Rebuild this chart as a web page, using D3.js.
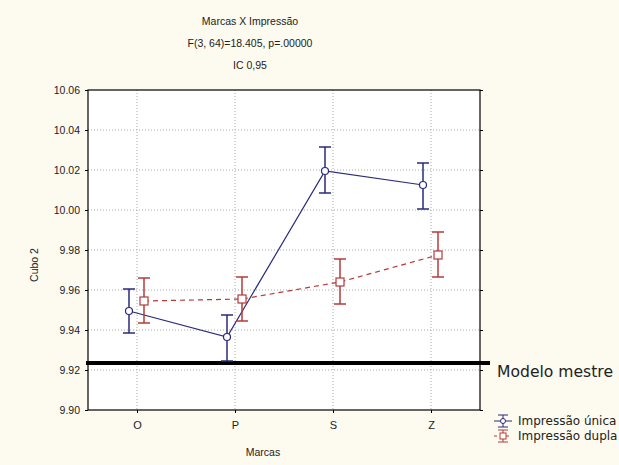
<!DOCTYPE html>
<html><head><meta charset="utf-8">
<script src="https://cdn.jsdelivr.net/npm/d3@7"></script>
<style>body{margin:0;background:#fdfaef;}svg{display:block;}</style>
</head><body>
<script>
const categories = ["O","P","S","Z"];
const seriesNames = ["Impressão única","Impressão dupla"];
const unicaMean = [9.9495, 9.9365, 10.0195, 10.0125];
const unicaLow  = [9.9385, 9.9245, 10.0085, 10.0005];
const unicaHigh = [9.9605, 9.9475, 10.0315, 10.0235];
const duplaMean = [9.9545, 9.9555, 9.9640, 9.9775];
const duplaLow  = [9.9435, 9.9445, 9.9530, 9.9665];
const duplaHigh = [9.9660, 9.9665, 9.9755, 9.9890];
const yTicks = [9.90,9.92,9.94,9.96,9.98,10.00,10.02,10.04,10.06];
const referenceValue = 9.9235;
const referenceLabel = "Modelo mestre";
const titleLines = ["Marcas X Impressão","F(3, 64)=18.405, p=.00000","IC 0,95"];

const W=619,H=465;
const m={l:88,r:480,t:90,b:410};
const svg=d3.select("body").append("svg").attr("width",W).attr("height",H)
  .style("font-family","'Liberation Sans',Arial,sans-serif");
svg.append("rect").attr("width",W).attr("height",H).attr("fill","#fdfaef");

const x=d3.scalePoint().domain(categories).range([m.l,m.r]).padding(0.5);
const y=d3.scaleLinear().domain([9.90,10.06]).range([m.b,m.t]);

svg.append("rect").attr("x",m.l).attr("y",m.t).attr("width",m.r-m.l).attr("height",m.b-m.t).attr("fill","#fff");

// grid
const g=svg.append("g");
g.selectAll(".hg").data(yTicks.slice(1,-1)).join("line")
  .attr("x1",m.l).attr("x2",m.r).attr("y1",d=>y(d)).attr("y2",d=>y(d))
  .attr("stroke","#aaa").attr("stroke-width",1).attr("stroke-dasharray","1,2");
g.selectAll(".vg").data(categories).join("line")
  .attr("x1",d=>x(d)).attr("x2",d=>x(d)).attr("y1",m.t).attr("y2",m.b)
  .attr("stroke","#aaa").attr("stroke-width",1).attr("stroke-dasharray","1,2");

// axes
const yAx=svg.append("g").attr("transform",`translate(${m.l},0)`)
  .call(d3.axisLeft(y).tickValues(yTicks).tickFormat(d3.format(".2f")).tickSize(3).tickPadding(5));
yAx.select(".domain").remove();
yAx.selectAll("text").attr("font-size",10.5).attr("fill","#222");
const yAxR=svg.append("g").attr("transform",`translate(${m.r},0)`)
  .call(d3.axisRight(y).tickValues(yTicks).tickFormat("").tickSize(3));
yAxR.select(".domain").remove();
const xAx=svg.append("g").attr("transform",`translate(0,${m.b})`)
  .call(d3.axisBottom(x).tickSize(3).tickPadding(8));
xAx.select(".domain").remove();
xAx.selectAll("text").attr("font-size",11).attr("fill","#222");
svg.append("rect").attr("x",m.l).attr("y",m.t).attr("width",m.r-m.l).attr("height",m.b-m.t)
  .attr("fill","none").attr("stroke","#000").attr("stroke-width",1.2);

// titles
titleLines.forEach((t,i)=>svg.append("text").attr("x",250).attr("y",25+i*22)
  .attr("text-anchor","middle").attr("font-size",10.5).attr("fill","#222").text(t));
svg.append("text").attr("x",263).attr("y",456).attr("text-anchor","middle").attr("font-size",10.5).attr("fill","#222").text("Marcas");
svg.append("text").attr("transform","translate(38,265) rotate(-90)").attr("text-anchor","middle").attr("font-size",10.5).attr("fill","#222").text("Cubo 2");

// reference line
svg.append("line").attr("x1",m.l-2).attr("x2",490).attr("y1",y(referenceValue)).attr("y2",y(referenceValue))
  .attr("stroke","#000").attr("stroke-width",4);
svg.append("text").attr("x",497).attr("y",y(referenceValue)+14).attr("font-family","'DejaVu Sans',Verdana,sans-serif")
  .attr("font-size",15).attr("textLength",116).attr("lengthAdjust","spacingAndGlyphs").attr("fill","#222").text(referenceLabel);

const blue="#2a2a7a", red="#b53a3a";
const series=[
  {mean:unicaMean,low:unicaLow,high:unicaHigh,color:blue,dx:-8,dash:null,shape:"circle"},
  {mean:duplaMean,low:duplaLow,high:duplaHigh,color:red,dx:7,dash:"5,4",shape:"square"}
];
series.forEach(s=>{
  const pts=categories.map((c,i)=>({x:x(c)+s.dx,m:s.mean[i],lo:s.low[i],hi:s.high[i]}));
  const sg=svg.append("g");
  sg.append("path").datum(pts).attr("fill","none").attr("stroke",s.color).attr("stroke-width",1.2)
    .attr("stroke-dasharray",s.dash).attr("d",d3.line().x(d=>d.x).y(d=>y(d.m)));
  pts.forEach(p=>{
    sg.append("line").attr("x1",p.x).attr("x2",p.x).attr("y1",y(p.lo)).attr("y2",y(p.hi)).attr("stroke",s.color).attr("stroke-width",1.5);
    [p.lo,p.hi].forEach(v=>sg.append("line").attr("x1",p.x-6).attr("x2",p.x+6).attr("y1",y(v)).attr("y2",y(v)).attr("stroke",s.color).attr("stroke-width",1.5));
    if(s.shape==="circle") sg.append("circle").attr("cx",p.x).attr("cy",y(p.m)).attr("r",3.5).attr("fill","#fff").attr("stroke",s.color).attr("stroke-width",1.2);
    else sg.append("rect").attr("x",p.x-4).attr("y",y(p.m)-4).attr("width",8).attr("height",8).attr("fill","#fff").attr("stroke",s.color).attr("stroke-width",1.2);
  });
});

// legend
const lg=svg.append("g");
series.forEach((s,i)=>{
  const cy=421+i*15, cx=503;
  lg.append("line").attr("x1",cx-9).attr("x2",cx+9).attr("y1",cy).attr("y2",cy).attr("stroke",s.color).attr("stroke-dasharray",s.dash?"3,3":null);
  lg.append("line").attr("x1",cx).attr("x2",cx).attr("y1",cy-6).attr("y2",cy+6).attr("stroke",s.color);
  lg.append("line").attr("x1",cx-5).attr("x2",cx+5).attr("y1",cy-6).attr("y2",cy-6).attr("stroke",s.color);
  lg.append("line").attr("x1",cx-5).attr("x2",cx+5).attr("y1",cy+6).attr("y2",cy+6).attr("stroke",s.color);
  if(s.shape==="circle") lg.append("circle").attr("cx",cx).attr("cy",cy).attr("r",2.5).attr("fill","#fff").attr("stroke",s.color);
  else lg.append("rect").attr("x",cx-3).attr("y",cy-3).attr("width",6).attr("height",6).attr("fill","#fff").attr("stroke",s.color);
  lg.append("text").attr("x",518).attr("y",cy+4).attr("font-family","'DejaVu Sans',Verdana,sans-serif").attr("font-size",12).attr("fill","#222").text(seriesNames[i]);
});
</script>
</body></html>
